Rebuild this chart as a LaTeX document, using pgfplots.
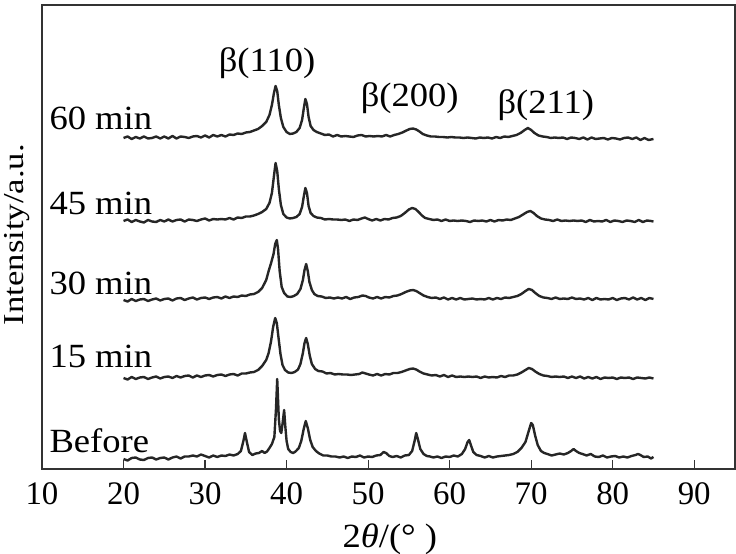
\documentclass[border=0pt]{standalone}
\usepackage{fontspec}
\setmainfont{Liberation Serif}
\newfontfamily\widefont[FakeStretch=1.08]{Liberation Serif}
\newfontfamily\ylabfont[FakeStretch=1.2]{Liberation Serif}
\usepackage{pgfplots}
\pgfplotsset{compat=1.18}
\usepackage{pgfplotstable}

\pgfplotstableread{
x y
20 10
20.5 8.5
21 11
21.5 11.5
22 9.5
22.5 9
23 11
23.5 11.5
24 9.5
24.5 11
25 11.5
25.5 9.5
26 11.5
26.5 12.5
27 10.5
27.5 12.5
28 12.5
28.5 13.5
29 12.5
29.5 14.5
30 13
30.5 11.5
31 13.5
31.5 12
32 13.5
32.5 13
33 14.5
33.5 13.5
34 15
34.4 18
34.7 28
34.9 36
35.1 28
35.4 17
35.8 14
36.2 15.5
36.6 16
37 18
37.3 16
37.6 17.5
37.9 21
38.2 25
38.5 32
38.7 60
38.85 90
39.05 50
39.2 38
39.35 36
39.5 45
39.7 59
39.85 42
40.0 28
40.2 20
40.5 17
40.8 16
41.1 17.5
41.5 21
41.8 28
42.1 40
42.35 48
42.6 41
42.9 29
43.2 22
43.6 18
44 15.5
44.5 13.5
45 13.5
45.5 12.5
46 12.5
46.5 11.5
47 12.5
47.5 11
48 12.5
48.5 12
49 13.5
49.5 11.5
50 12.5
50.5 12
51 13.5
51.5 14
51.9 17
52.2 16
52.6 13
53 12
53.5 13
54 11.5
54.5 13.5
55 14
55.4 18
55.7 28
55.9 36
56.1 30
56.4 20
56.8 15
57.2 13
57.6 12.5
58 11.5
58.5 12.5
59 11
59.5 12.5
60 12
60.5 13.5
61 12.5
61.5 15
61.9 20
62.2 27
62.4 29
62.6 24
62.9 17
63.3 14
63.8 13
64.3 11.5
64.8 13
65.3 11.5
65.8 12.5
66.3 13
66.8 13.5
67.3 14
67.8 15
68.3 17
68.8 21
69.3 27
69.7 38
70.0 46
70.2 44
70.5 33
70.8 24
71.2 18
71.6 16
72 15
72.5 13.5
73 14.5
73.5 15.5
74 14.5
74.5 16
74.9 18
75.2 20
75.5 18
75.9 16
76.3 15
76.8 13.5
77.3 15
77.8 12.5
78.3 12
78.8 13.5
79.3 11.5
79.8 12.5
80.3 13
80.8 11.5
81.3 12.5
81.8 11.5
82.3 13
82.8 14
83.1 15
83.4 14
83.8 12
84.3 12.5
84.7 10.5
85 12
}\before

\pgfplotstableread{
x y
20 91
20.5 89.5
21 92
21.5 90
22 91.5
22.5 92
23 90
23.5 91.5
24 92.5
24.5 90.5
25 92
25.5 92.5
26 91
26.5 93
27 91.5
27.5 93
28 93.5
28.5 91.5
29 93.5
29.5 92
30 93.5
30.5 94
31 92.5
31.5 94
32 94.5
32.5 93
33 94.5
33.5 95
34 93.5
34.5 95.5
35 95.5
35.5 96.5
36 97
36.5 99
37 103
37.5 109
37.8 116
38.1 128
38.35 142
38.6 151
38.8 146
39.0 132
39.25 115
39.5 104
39.8 99
40.2 96.5
40.6 96
41 97
41.4 99.5
41.7 105
42 116
42.2 126
42.4 131
42.6 125
42.85 113
43.1 105
43.5 100
43.9 98
44.4 97.5
44.9 95.5
45.4 96
45.9 94.5
46.4 95
46.9 94.5
47.4 94.5
47.9 94
48.4 94.5
48.9 95
49.3 96.5
49.7 95.5
50.1 94.5
50.6 93.5
51.1 95
51.6 93.5
52.1 95
52.6 94.5
53.1 96
53.6 96
54.1 97
54.6 98.5
55.1 100
55.5 100.5
55.9 99.5
56.3 97.5
56.8 95.5
57.3 94.5
57.8 93.5
58.3 94
58.8 92.5
59.3 94
59.8 92
60.3 93.5
60.8 92
61.3 92.5
61.8 92
62.3 92.5
62.8 92
63.3 92.5
63.8 91
64.3 92.5
64.8 91.5
65.3 92
65.8 91.5
66.3 93
66.8 92
67.3 93.5
67.8 93.5
68.3 94.5
68.8 96.5
69.3 99
69.7 101
70.1 100
70.5 97.5
71 95
71.5 93.5
72 93
72.5 92
73 92.5
73.5 92
74 92.5
74.5 91
75 92.5
75.5 91
76 92.5
76.5 90.5
77 92
77.5 90.5
78 92
78.5 90
79 91.5
79.5 91
80 91.5
80.5 90
81 91.5
81.5 91
82 91.5
82.5 90
83 91.5
83.5 91
84 90.5
84.5 91.5
85 90.5
}\fifteen

\pgfplotstableread{
x y
20 169
20.5 167.5
21 170
21.5 168
22 169.5
22.5 170
23 168
23.5 169.5
24 170.5
24.5 168.5
25 170
25.5 170.5
26 168.5
26.5 170.5
27 171
27.5 169
28 170.5
28.5 171.5
29 169.5
29.5 171
30 171.5
30.5 170
31 171.5
31.5 172
32 170.5
32.5 172.5
33 171
33.5 172.5
34 172
34.5 173.5
35 173
35.5 174.5
36 175
36.5 177
37 181
37.5 189
37.8 198
38.1 206
38.4 215
38.6 225
38.8 229
38.95 220
39.15 198
39.4 182
39.7 176
40.1 172.5
40.5 172
40.9 173
41.3 175
41.7 180
42 189
42.2 199
42.4 205
42.6 198
42.8 187
43.1 179
43.4 175
43.8 173
44.3 172.5
44.8 171
45.3 171.5
45.8 170.5
46.3 171.5
46.8 170.5
47.3 172
47.8 170
48.3 171.5
48.8 172
49.3 173.5
49.7 173
50.1 171.5
50.6 170.5
51.1 172
51.6 170.5
52.1 172
52.6 171.5
53.1 173
53.6 173.5
54.1 175
54.6 177
55.1 178.5
55.5 179
55.9 178
56.3 176
56.8 173.5
57.3 172
57.8 171
58.3 171.5
58.8 170
59.3 171.5
59.8 169.5
60.3 171
60.8 169.5
61.3 171
61.8 169.5
62.3 170
62.8 170.5
63.3 169.5
63.8 170
64.3 169.5
64.8 171
65.3 169.5
65.8 171
66.3 170
66.8 171.5
67.3 171
67.8 172
68.3 173
68.8 175
69.3 178
69.7 180
70.1 179
70.5 176
71 173
71.5 171.5
72 171
72.5 170
73 171.5
73.5 170
74 170.5
74.5 170
75 171.5
75.5 170
76 170.5
76.5 169.5
77 171
77.5 169
78 171
78.5 169.5
79 170
79.5 169.5
80 171
80.5 169
81 170.5
81.5 171
82 169.5
82.5 171.5
83 169.5
83.5 171
84 169
84.5 171
85 170
}\thirty

\pgfplotstableread{
x y
20 248
20.5 249.5
21 247
21.5 249
22 247.5
22.5 246.5
23 249
23.5 247.5
24 247
24.5 249
25 247.5
25.5 249.5
26 247.5
26.5 249
27 249.5
27.5 247.5
28 249.5
28.5 249
29 248
29.5 249.5
30 250.5
30.5 248.5
31 250
31.5 249.5
32 250
32.5 249.5
33 251
33.5 249.5
34 251.5
34.5 251
35 252.5
35.5 252.5
36 253.5
36.5 255
37 257
37.5 260
37.9 266
38.2 276
38.45 293
38.65 306
38.85 298
39.05 280
39.3 264
39.6 255
40 251.5
40.4 250.5
40.8 251
41.2 252
41.6 255
41.9 262
42.1 272
42.3 281
42.5 276
42.7 263
42.95 256
43.3 253
43.7 251.5
44.2 251
44.7 249.5
45.2 250
45.7 249.5
46.2 249.5
46.7 249
47.2 249.5
47.7 248
48.2 249.5
48.7 249
49.2 250.5
49.6 251.5
50 250
50.5 248.5
51 250
51.5 248.5
52 250
52.5 249.5
53 251
53.5 251.5
54 253
54.5 256
55 259.5
55.4 261
55.8 260
56.2 257
56.6 253.5
57 251
57.5 250
58 249
58.5 249.5
59 248
59.5 249.5
60 248
60.5 248.5
61 248
61.5 248.5
62 248
62.5 247
63 248.5
63.5 248
64 248.5
64.5 247.5
65 249
65.5 247.5
66 249
66.5 248.5
67 249.5
67.5 249
68 250.5
68.5 252
69 254.5
69.5 257
69.9 258
70.3 256
70.7 253
71.2 250.5
71.7 249.5
72.2 249
72.7 248
73.2 249.5
73.7 248
74.2 248.5
74.7 248
75.2 248.5
75.7 248
76.2 248.5
76.7 247
77.2 249
77.7 247.5
78.2 248
78.7 247.5
79.2 249
79.7 247
80.2 248.5
80.7 248
81.2 247
81.7 248.5
82.2 248
82.7 247
83.2 249
83.7 247
84.2 248.5
84.7 248
85 247.5
}\fortyfive

\pgfplotstableread{
x y
20 331
20.5 332.5
21 330
21.5 332
22 330.5
22.5 332.5
23 330.5
23.5 331
24 332.5
24.5 330.5
25 332.5
25.5 330.5
26 333
26.5 330.5
27 332.5
27.5 332
28 331
28.5 332.5
29 333
29.5 331.5
30 333.5
30.5 331.5
31 334
31.5 332.5
32 334
32.5 332.5
33 334.5
33.5 334
34 335.5
34.5 335
35 336.5
35.5 337
36 338.5
36.5 340
37 343
37.5 347
37.9 354
38.2 364
38.45 376
38.65 383
38.85 378
39.05 364
39.3 351
39.6 342
40 337
40.4 335
40.8 335.5
41.2 337
41.6 341
41.9 349
42.1 360
42.3 370
42.5 365
42.7 352
42.95 343
43.3 339
43.7 337
44.2 335.5
44.7 334
45.2 334.5
45.7 332.5
46.2 334
46.7 332.5
47.2 333
47.7 332.5
48.2 332
48.7 333.5
49.2 334
49.7 332.5
50.2 333
50.7 332.5
51.2 333
51.7 332.5
52.2 334
52.7 332.5
53.2 334
53.7 335
54.2 336.5
54.7 338.5
55.1 340
55.5 340.5
55.9 339.5
56.3 337.5
56.7 335
57.2 333.5
57.7 332.5
58.2 332.5
58.7 332
59.2 332
59.7 331.5
60.2 332
60.7 331.5
61.2 331.5
61.7 331
62.2 331.5
62.7 331
63.2 330.5
63.7 331.5
64.2 331
64.7 331.5
65.2 330.5
65.7 332
66.2 331
66.7 332.5
67.2 332
67.7 333
68.2 334
68.7 336
69.2 339
69.6 341
70 339
70.4 336
70.9 333.5
71.4 332.5
71.9 332
72.4 331
72.9 331.5
73.4 331
73.9 331.5
74.4 330
74.9 331.5
75.4 331
75.9 330
76.4 331.5
76.9 329.5
77.4 331.5
77.9 330
78.4 330.5
78.9 331
79.4 329.5
79.9 331
80.4 330.5
80.9 329.5
81.4 331
81.9 331.5
82.4 330
82.9 331.5
83.4 329
83.9 331
84.4 329
85 330
}\sixty

\begin{document}
\begin{tikzpicture}[font=\widefont\fontsize{34}{40}\selectfont]
\useasboundingbox (0,0) rectangle (736bp,554bp);
\begin{axis}[
  at={(42bp,85bp)}, anchor=south west,
  scale only axis, width=693bp, height=464bp,
  xmin=10, xmax=95, ymin=0, ymax=464,
  xtick={10,20,...,90}, ytick=\empty,
  xtick pos=bottom, tick align=inside,
  major tick length=9bp,
  axis line style={line width=1.5bp, draw=black!80},
  every tick/.style={line width=1.2bp, draw=black!80},
  /pgf/number format/assume math mode=true,
  ticklabel style={font=\rmfamily\fontsize{33}{38}\selectfont},
  xticklabel style={yshift=-10bp},
  xlabel={2{\itshape θ}/(° )},
  xlabel style={at={(axis description cs:0.502,0)}, anchor=center, yshift=-70bp},
  ylabel={Intensity/a.u.},
  ylabel style={at={(axis description cs:0,0.505)}, anchor=base, yshift=19bp,
    inner sep=0pt, font=\ylabfont\fontsize{29}{34}\selectfont},
  clip=false,
]
\addplot[line width=2.4bp, black!85, line join=round] table {\before};
\addplot[line width=2.4bp, black!85, line join=round] table {\fifteen};
\addplot[line width=2.4bp, black!85, line join=round] table {\thirty};
\addplot[line width=2.4bp, black!85, line join=round] table {\fortyfive};
\addplot[line width=2.4bp, black!85, line join=round] table {\sixty};
\node[anchor=base west, inner sep=0] at (axis cs:10.9,339) {60 min};
\node[anchor=base west, inner sep=0] at (axis cs:10.9,254) {45 min};
\node[anchor=base west, inner sep=0] at (axis cs:10.9,174) {30 min};
\node[anchor=base west, inner sep=0] at (axis cs:10.9,101) {15 min};
\node[anchor=base west, inner sep=0] at (axis cs:10.9,17) {Before};
\node[anchor=base, inner sep=0] at (axis cs:37.6,397) {β(110)};
\node[anchor=base, inner sep=0] at (axis cs:55.1,362) {β(200)};
\node[anchor=base, inner sep=0] at (axis cs:71.8,355) {β(211)};
\end{axis}
\end{tikzpicture}
\end{document}
